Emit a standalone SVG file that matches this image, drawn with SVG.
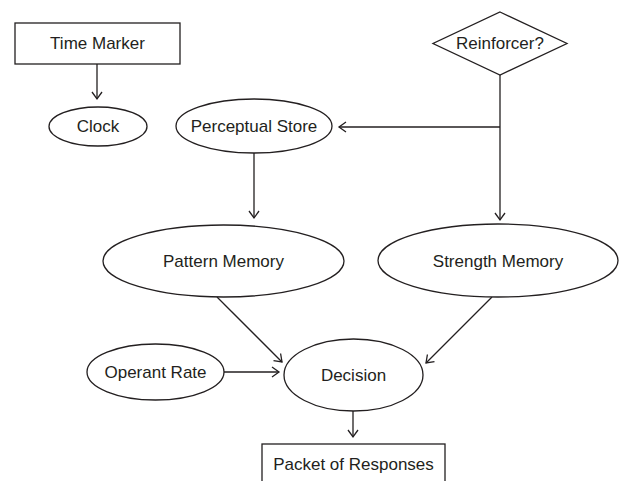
<svg xmlns="http://www.w3.org/2000/svg" width="626" height="481" viewBox="0 0 626 481">
<style>
.s{fill:#fff;stroke:#231f20;stroke-width:1.3}
.t{font-family:"Liberation Sans",Arial,sans-serif;font-size:17px;fill:#231f20;text-anchor:middle}
.c{fill:none;stroke:#231f20;stroke-width:1.3}
</style>
<defs>
<marker id="a" viewBox="-10 -6 12 12" refX="0" refY="0" markerWidth="12" markerHeight="12" markerUnits="userSpaceOnUse" orient="auto">
<polyline points="-7,-5 0,0 -7,5" fill="none" stroke="#231f20" stroke-width="1.3"/>
</marker>
</defs>
<rect width="626" height="481" fill="#fff"/>
<g id="connectors">
<line class="c" x1="97" y1="64" x2="97" y2="99" marker-end="url(#a)"/>
<line class="c" x1="500" y1="75" x2="500" y2="220" marker-end="url(#a)"/>
<line class="c" x1="500" y1="127" x2="339" y2="127" marker-end="url(#a)"/>
<line class="c" x1="254" y1="153" x2="254" y2="218" marker-end="url(#a)"/>
<line class="c" x1="217" y1="297" x2="282" y2="362" marker-end="url(#a)"/>
<line class="c" x1="492" y1="297" x2="426" y2="363" marker-end="url(#a)"/>
<line class="c" x1="224" y1="372" x2="279" y2="372" marker-end="url(#a)"/>
<line class="c" x1="353" y1="411" x2="353" y2="437" marker-end="url(#a)"/>
</g>
<g id="time-marker"><rect class="s" x="15" y="23" width="165" height="41"/><text class="t" x="97.5" y="49">Time Marker</text></g>
<g id="clock"><ellipse class="s" cx="98" cy="126.5" rx="49" ry="19.5"/><text class="t" x="98" y="132">Clock</text></g>
<g id="reinforcer"><polygon class="s" points="500,12 567,43.5 500,75 433,43.5"/><text class="t" x="500" y="49">Reinforcer?</text></g>
<g id="perceptual-store"><ellipse class="s" cx="254" cy="126" rx="78" ry="27"/><text class="t" x="254" y="132">Perceptual Store</text></g>
<g id="pattern-memory"><ellipse class="s" cx="223.5" cy="261" rx="120.5" ry="36"/><text class="t" x="223.5" y="267">Pattern Memory</text></g>
<g id="strength-memory"><ellipse class="s" cx="498" cy="260.5" rx="120" ry="36.5"/><text class="t" x="498" y="267">Strength Memory</text></g>
<g id="operant-rate"><ellipse class="s" cx="155.5" cy="372" rx="68.5" ry="28"/><text class="t" x="155.5" y="378">Operant Rate</text></g>
<g id="decision"><ellipse class="s" cx="353.5" cy="375" rx="69.5" ry="36"/><text class="t" x="353.5" y="381">Decision</text></g>
<g id="packet-of-responses"><rect class="s" x="262" y="444" width="183" height="50"/><text class="t" x="353.5" y="470">Packet of Responses</text></g>
</svg>
